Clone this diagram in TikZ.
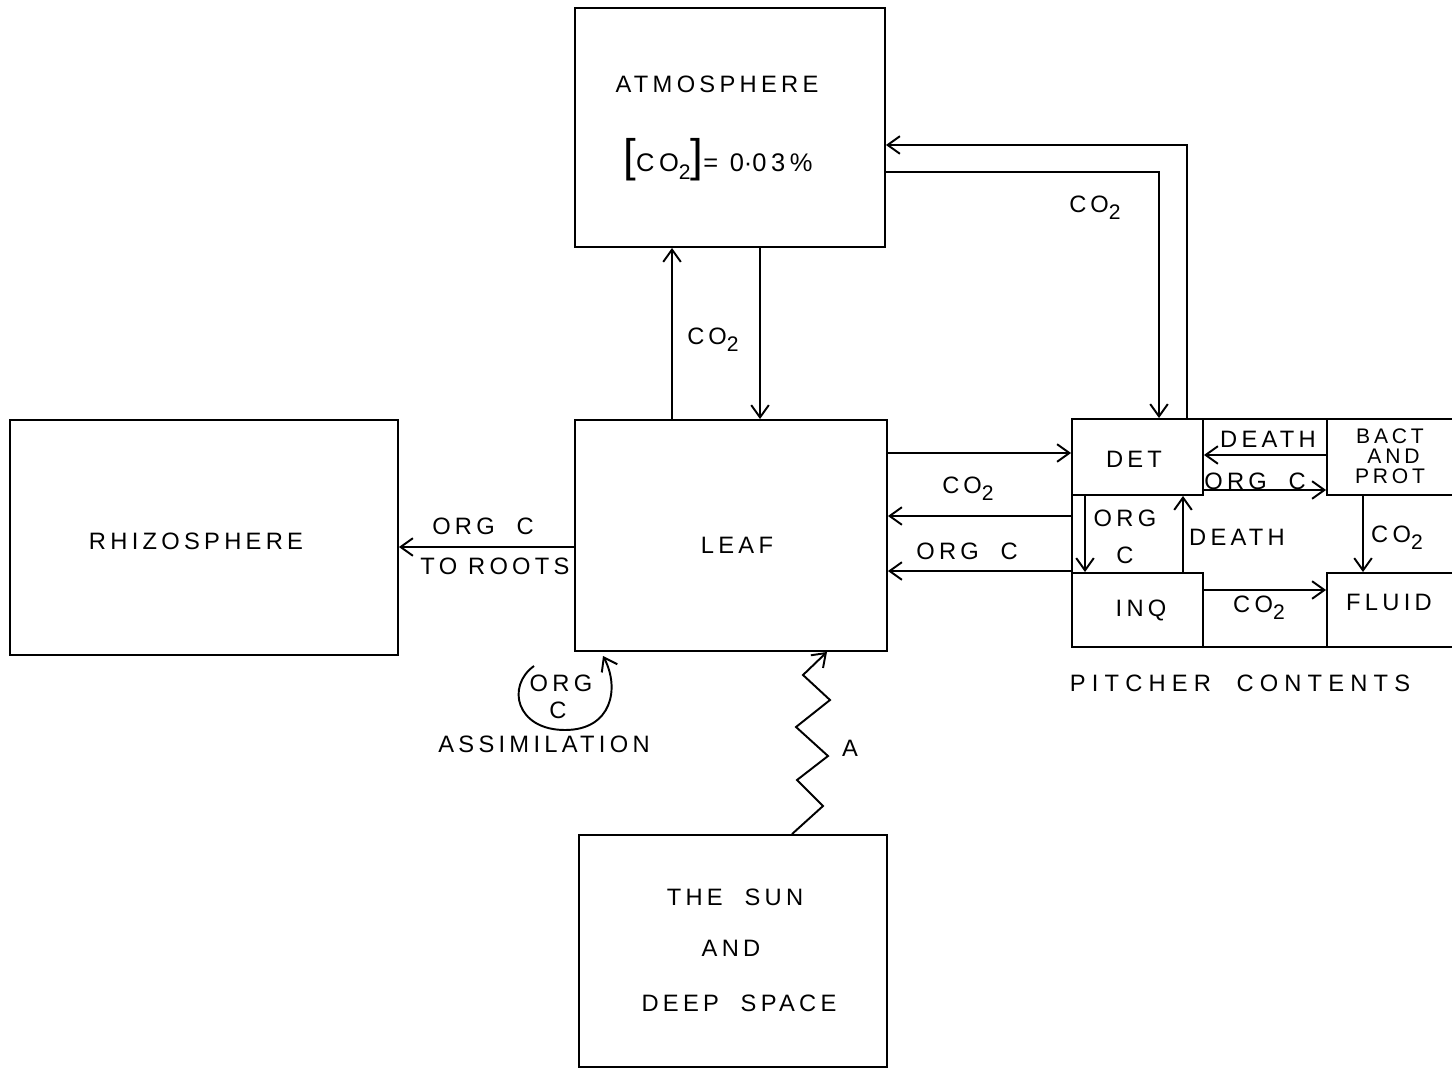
\documentclass[tikz,border=0pt]{standalone}
\usepackage{fontspec}
\setmainfont{Liberation Sans}[LetterSpace=18]
\usetikzlibrary{arrows.meta}
\newcommand\COtwo{CO\raisebox{-0.55ex}{\fontsize{12}{12}\selectfont 2}}
\newcommand\CsOtwo{C\,O\raisebox{-0.55ex}{\fontsize{12}{12}\selectfont 2}}
\begin{document}
\begin{tikzpicture}[x=0.02cm,y=-0.02cm,
  every node/.style={font=\fontsize{13.5}{16}\selectfont, inner sep=0pt},
  box/.style={draw, line width=1.1pt, inner sep=0pt},
  small/.style={font=\fontsize{12}{11.3}\selectfont, align=center},
  flow/.style={draw, line width=1.1pt, -{Straight Barb[length=7pt,width=10pt,line width=1.1pt]}},
  ]
\useasboundingbox (0,0) rectangle (1452,1070);
% main boxes
\node[box, minimum width=6.2cm, minimum height=4.78cm] (atm) at (730,127.5) {};
\node[box, minimum width=6.24cm, minimum height=4.62cm] (leaf) at (731,535.5) {};
\node[box, minimum width=7.76cm, minimum height=4.7cm] (rhizo) at (204,537.5) {};
\node[box, minimum width=6.16cm, minimum height=4.64cm] (sun) at (733,951) {};
% pitcher
\node[box, minimum width=7.76cm, minimum height=4.56cm] (pit) at (1266,533) {};
\node[box, minimum width=2.62cm, minimum height=1.52cm] (det) at (1137.5,457) {};
\node[box, minimum width=2.66cm, minimum height=1.52cm] (bact) at (1393.5,457) {};
\node[box, minimum width=2.62cm, minimum height=1.48cm] (inq) at (1137.5,610) {};
\node[box, minimum width=2.66cm, minimum height=1.48cm] (fluid) at (1393.5,610) {};
% texts
\node (atmt) at (717,84) {ATMOSPHERE};
\node[font=\fontsize{14.5}{16}\selectfont] (conc) at (718,160) {{\fontsize{26}{26}\selectfont[}\COtwo{\fontsize{26}{26}\selectfont]}= 0{\addfontfeatures{LetterSpace=0}·}03\%};
\node (rhizot) at (196,541) {RHIZOSPHERE};
\node (leaft) at (737,545) {LEAF};
\node (sun1) at (735,897) {THE \ SUN};
\node (sun2) at (731,948) {AND};
\node (sun3) at (739,1003) {DEEP \ SPACE};
\node (dett) at (1134,459) {DET};
\node[small] (bactt) at (1390,456) {BACT\\\hspace*{4pt}AND\\PROT};
\node (inqt) at (1141,610) {INQ};
\node (fluidt) at (1389,602) {FLUID};
\node[font=\fontsize{13.5}{16}\selectfont\addfontfeatures{LetterSpace=26}] (pitt) at (1240,683) {PITCHER \ CONTENTS};
% atmosphere <-> pitcher
\draw[flow] (atm.east |- 0,172) -| (det.north -| 1159,0);
\draw[flow] (det.north -| 1187,0) |- (atm.east |- 0,145);
\node (l1) at (1095,208) {\CsOtwo};
% atmosphere <-> leaf
\draw[flow] (leaf.north -| 672,0) -- (atm.south -| 672,0);
\draw[flow] (atm.south -| 760,0) -- (leaf.north -| 760,0);
\node (l2) at (713,340) {\CsOtwo};
% leaf <-> pitcher
\draw[flow] (leaf.east |- 0,453) -- (det.west |- 0,453);
\draw[flow] (pit.west |- 0,516) -- (leaf.east |- 0,516);
\draw[flow] (pit.west |- 0,571) -- (leaf.east |- 0,571);
\node (l3) at (968,489) {\CsOtwo};
\node (l4) at (967,551) {ORG \ C};
% leaf -> rhizosphere
\draw[flow] (leaf.west |- 0,547) -- (rhizo.east |- 0,547);
\node (l5) at (483,526) {ORG \ C};
\node (l6) at (495,566) {TO ROOTS};
% inside pitcher
\draw[flow] (bact.west |- 0,455) -- (det.east |- 0,455);
\node (l7) at (1268,439) {DEATH};
\draw[flow] (det.east |- 0,490) -- (bact.west |- 0,490);
\node (l8) at (1255,481) {ORG \ C};
\draw[flow] (det.south -| 1085,0) -- (inq.north -| 1085,0);
\node (l9) at (1125,518) {ORG};
\node (l10) at (1125,555) {C};
\draw[flow] (inq.north -| 1183,0) -- (det.south -| 1183,0);
\node (l11) at (1237,537) {DEATH};
\draw[flow] (bact.south -| 1363,0) -- (fluid.north -| 1363,0);
\node (l12) at (1397,538) {\COtwo};
\draw[flow] (inq.east |- 0,590) -- (fluid.west |- 0,590);
\node (l13) at (1259,608) {\COtwo};
% sun -> leaf zigzag
\draw[flow] (sun.north -| 792,0) -- (823,806) -- (797,780) -- (828,756) -- (796,727) -- (830,700) -- (803,675) -- (leaf.south -| 827,0);
\node (l14) at (850,748) {A};
% assimilation loop
\coordinate (as1) at (534,666);
\coordinate (as2) at (603,656);
\draw[flow] (as1) .. controls (506,686) and (516,730) .. (565,730) .. controls (612,730) and (620,688) .. (as2);
\node (l15) at (561,683) {ORG};
\node (l16) at (558,710) {C};
\node (l17) at (544,744) {ASSIMILATION};
\end{tikzpicture}
\end{document}
